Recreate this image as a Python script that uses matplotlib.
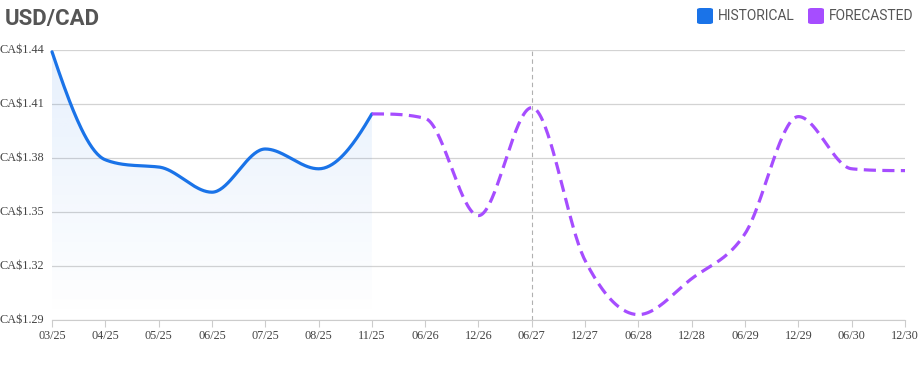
import matplotlib.pyplot as plt
import numpy as np
from matplotlib.patches import FancyBboxPatch

# category labels (evenly spaced on the axis)
labels = ["03/25", "04/25", "05/25", "06/25", "07/25", "08/25", "11/25",
          "06/26", "12/26", "06/27", "12/27", "06/28", "12/28", "06/29",
          "12/29", "06/30", "12/30"]

hist_vals = [1.439, 1.379, 1.375, 1.361, 1.385, 1.374, 1.4045]
fcst_vals = [1.4045, 1.402, 1.348, 1.408, 1.323, 1.293, 1.313, 1.338,
             1.403, 1.374, 1.373]

yticks = [1.29, 1.32, 1.35, 1.38, 1.41, 1.44]
marker_label = "06/27"

BLUE = "#1a73e8"
PURPLE = "#a64dff"
GREY_TXT = "#555555"


def smooth(x, y, n=40):
    # monotone cubic (Fritsch-Carlson) used only to draw the line
    x = np.asarray(x, float)
    y = np.asarray(y, float)
    h = np.diff(x)
    d = np.diff(y) / h
    m = np.zeros_like(y)
    for i in range(1, len(y) - 1):
        if d[i - 1] * d[i] > 0:
            m[i] = (d[i - 1] + d[i]) / 2
    m[0] = (3 * d[0] - d[1]) / 2
    if m[0] * d[0] < 0:
        m[0] = 0
    m[-1] = (3 * d[-1] - d[-2]) / 2
    if m[-1] * d[-1] < 0:
        m[-1] = 0
    for i in range(len(d)):
        if d[i] == 0:
            m[i] = m[i + 1] = 0
            continue
        a, b = m[i] / d[i], m[i + 1] / d[i]
        s = a * a + b * b
        if s > 9:
            t = 3 / np.sqrt(s)
            m[i], m[i + 1] = t * a * d[i], t * b * d[i]
    xs, ys = [], []
    for i in range(len(d)):
        t = np.linspace(0, 1, n, endpoint=(i == len(d) - 1))
        h00 = 2 * t**3 - 3 * t**2 + 1
        h10 = t**3 - 2 * t**2 + t
        h01 = -2 * t**3 + 3 * t**2
        h11 = t**3 - t**2
        xs.append(x[i] + t * h[i])
        ys.append(h00 * y[i] + h10 * h[i] * m[i] + h01 * y[i + 1] + h11 * h[i] * m[i + 1])
    return np.concatenate(xs), np.concatenate(ys)


fig = plt.figure(figsize=(9.2, 3.76), dpi=100)
ax = fig.add_axes([52 / 920, 1 - 320 / 376, (905 - 52) / 920, 270 / 376])

xh = np.arange(len(hist_vals))
xf = np.arange(len(hist_vals) - 1, len(hist_vals) - 1 + len(fcst_vals))
hx, hy = smooth(xh, hist_vals)
fx, fy = smooth(xf, fcst_vals)

ymin, ymax = yticks[0], yticks[-1]

# gradient fill under the historical line (fades out toward the bottom)
poly = ax.fill_between(hx, hy, ymin, color="none", lw=0)
grad = np.zeros((100, 1, 4))
grad[:, 0, :3] = np.array([26, 115, 232]) / 255
grad[:, 0, 3] = np.linspace(0.0, 0.11, 100)
im = ax.imshow(grad, extent=[hx[0], hx[-1], ymin, ymax], aspect="auto",
               origin="lower", zorder=1)
im.set_clip_path(poly.get_paths()[0], transform=ax.transData)

ax.plot(hx, hy, color=BLUE, lw=2.3, zorder=3, clip_on=False,
        solid_capstyle="round")
ax.plot(fx, fy, color=PURPLE, lw=2.3, zorder=3, clip_on=False,
        linestyle=(0, (3.8, 2.0)), dash_capstyle="butt")

ax.axvline(labels.index(marker_label), color="#b0b0b0", lw=0.8,
           linestyle=(0, (4, 3)), zorder=2)

ax.set_xlim(0, len(labels) - 1)
ax.set_ylim(ymin, ymax)
ax.set_xticks(range(len(labels)))
ax.set_xticklabels(labels)
ax.set_yticks(yticks)
ax.set_yticklabels(["CA$%.2f" % v for v in yticks])
ax.grid(axis="y", color="#d3d3d3", lw=0.9)
ax.set_axisbelow(True)

for s in ["top", "right", "left"]:
    ax.spines[s].set_visible(False)
ax.spines["bottom"].set_color("#cccccc")
ax.tick_params(axis="x", length=5, color="#cccccc", pad=2,
               labelsize=8.8, labelcolor="#444444")
ax.tick_params(axis="y", length=0, pad=0, labelsize=8.8, labelcolor="#444444")
for t in ax.get_xticklabels() + ax.get_yticklabels():
    t.set_fontfamily("Liberation Serif")
for t in ax.get_yticklabels():
    t.set_horizontalalignment("left")
    t.set_x(-52 / 853)
    t.set_verticalalignment("center")

fig.text(5 / 920, 1 - 25 / 376, "USD/CAD", fontsize=16, fontweight="bold",
         color=GREY_TXT, family="Roboto", va="baseline", ha="left")

# legend
for x0, col, txt in [(697, BLUE, "HISTORICAL"), (808, PURPLE, "FORECASTED")]:
    fig.patches.append(FancyBboxPatch(
        (x0 / 920, 1 - 24 / 376), 16 / 920, 16 / 376,
        boxstyle="round,pad=0,rounding_size=0.004", transform=fig.transFigure,
        facecolor=col, edgecolor="none"))
    fig.text((x0 + 21) / 920, 1 - 20.5 / 376, txt, fontsize=10, color=GREY_TXT,
             family="Roboto", va="baseline", ha="left")

fig.savefig("out.png", dpi=100)
